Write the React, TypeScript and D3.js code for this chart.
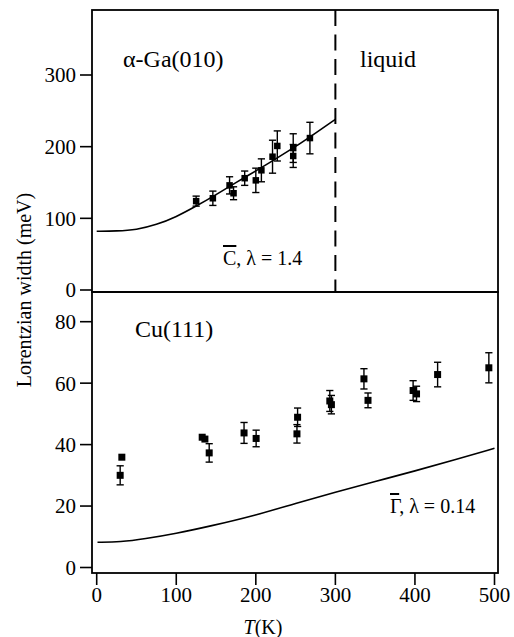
import React from "react";
import * as d3 from "d3";

// ---- data ----
const xTicks = [0, 100, 200, 300, 400, 500];
const gaTicks = [0, 100, 200, 300];
const cuTicks = [0, 20, 40, 60, 80];

// alpha-Ga(010) measured widths
const gaT = [125, 146, 167, 172, 186, 200, 207, 221, 227, 247, 247, 268];
const gaW = [124, 128, 146, 135, 156, 153, 167, 186, 201, 198, 187, 212];
const gaErr = [7, 10, 12, 9, 10, 17, 16, 23, 21, 20, 16, 22];

// alpha-Ga model curve (C-bar, lambda = 1.4)
const gaCurveT = [0, 25, 50, 75, 100, 125, 150, 175, 200, 225, 250, 275, 300];
const gaCurveW = [82, 82.3, 84, 91, 102, 117, 133, 150, 166, 183, 200, 219, 238];

// Cu(111) measured widths
const cuT = [31.6, 29.5, 132.6, 136, 141.4, 185.2, 200.4, 252.5, 251.7, 293, 295, 335.9, 341, 397.7, 402, 428.5, 492.9];
const cuW = [35.9, 30.0, 42.4, 41.8, 37.3, 43.8, 42.0, 48.9, 43.5, 54.2, 53.0, 61.4, 54.4, 57.6, 56.5, 62.8, 65.0];
const cuErr = [0, 3.1, 0, 0, 3.0, 3.4, 2.7, 3.0, 3.0, 3.4, 3.0, 3.3, 2.4, 3.2, 2.5, 4.0, 4.9];

// Cu model curve (Gamma-bar, lambda = 0.14)
const cuCurveT = [1, 30, 60, 100, 140, 200, 250, 300, 350, 400, 450, 500];
const cuCurveW = [8.2, 8.3, 9.3, 11.1, 13.3, 17.0, 20.9, 24.5, 28.0, 31.4, 35.1, 38.8];

const FONT = '"Liberation Serif", "Times New Roman", Times, serif';

export default function App() {
  const W = 514;
  const H = 637;
  const left = 92;
  const right = 498;
  const top = 10;
  const mid = 292;
  const bottom = 573;

  const x = d3.scaleLinear().domain([0, 500]).range([96.7, 494.5]);
  const yGa = d3.scaleLinear().domain([0, 300]).range([290, 75]);
  const yCu = d3.scaleLinear().domain([0, 80]).range([567.5, 321.7]);

  const gaLine = d3
    .line<number>()
    .x((_, i) => x(gaCurveT[i]))
    .y((d) => yGa(d))
    .curve(d3.curveBasis);
  const cuLine = d3
    .line<number>()
    .x((_, i) => x(cuCurveT[i]))
    .y((d) => yCu(d))
    .curve(d3.curveBasis);

  const frameW = 1.8;
  const tickLen = 12;

  const point = (
    t: number,
    w: number,
    e: number,
    y: d3.ScaleLinear<number, number>,
    size: number,
    key: string
  ) => {
    const cx = x(t);
    const cy = y(w);
    const cap = 3.6;
    return (
      <g key={key}>
        {e > 0 && (
          <g stroke="#000" strokeWidth={1.4}>
            <line x1={cx} x2={cx} y1={y(w - e)} y2={y(w + e)} />
            <line x1={cx - cap} x2={cx + cap} y1={y(w - e)} y2={y(w - e)} />
            <line x1={cx - cap} x2={cx + cap} y1={y(w + e)} y2={y(w + e)} />
          </g>
        )}
        <rect x={cx - size / 2} y={cy - size / 2} width={size} height={size} fill="#000" />
      </g>
    );
  };

  const ts: React.CSSProperties = { fontFamily: FONT };

  return (
    <svg
      width={W}
      height={H}
      style={{ position: "absolute", left: 0, top: 0, background: "#fff", fontFamily: FONT }}
    >
      <rect x={0} y={0} width={W} height={H} fill="#fff" />

      {/* frames */}
      <g stroke="#000" strokeWidth={frameW} fill="none">
        <rect x={left} y={top} width={right - left} height={mid - top} />
        <rect x={left} y={mid} width={right - left} height={bottom - mid} />
      </g>

      {/* melting line */}
      <line
        x1={x(300)}
        x2={x(300)}
        y1={top}
        y2={mid}
        stroke="#000"
        strokeWidth={2}
        strokeDasharray="16 8.5"
      />

      {/* top y axis */}
      <g>
        {gaTicks.map((t) => (
          <g key={"gt" + t}>
            <line x1={left - tickLen} x2={left} y1={yGa(t)} y2={yGa(t)} stroke="#000" strokeWidth={1.6} />
            <text x={left - 16} y={yGa(t)} dy="0.35em" textAnchor="end" fontSize={21} style={ts}>
              {t}
            </text>
          </g>
        ))}
      </g>

      {/* bottom y axis */}
      <g>
        {cuTicks.map((t) => (
          <g key={"ct" + t}>
            <line x1={left - tickLen} x2={left} y1={yCu(t)} y2={yCu(t)} stroke="#000" strokeWidth={1.6} />
            <text x={left - 16} y={yCu(t)} dy="0.35em" textAnchor="end" fontSize={21} style={ts}>
              {t}
            </text>
          </g>
        ))}
      </g>

      {/* x axis */}
      <g>
        {xTicks.map((t) => (
          <g key={"xt" + t}>
            <line x1={x(t)} x2={x(t)} y1={bottom} y2={bottom + tickLen} stroke="#000" strokeWidth={1.6} />
            <text x={x(t)} y={602} textAnchor="middle" fontSize={21} style={ts}>
              {t}
            </text>
          </g>
        ))}
      </g>

      {/* curves */}
      <path d={gaLine(gaCurveW) || ""} fill="none" stroke="#000" strokeWidth={1.6} />
      <path d={cuLine(cuCurveW) || ""} fill="none" stroke="#000" strokeWidth={1.6} />

      {/* points */}
      {gaT.map((t, i) => point(t, gaW[i], gaErr[i], yGa, 6.5, "g" + i))}
      {cuT.map((t, i) => point(t, cuW[i], cuErr[i], yCu, 7, "c" + i))}

      {/* labels */}
      <text x={123} y={67} fontSize={24} style={ts}>
        α-Ga(010)
      </text>
      <text x={360} y={67} fontSize={24} style={ts}>
        liquid
      </text>
      <text x={135} y={337} fontSize={24} style={ts}>
        Cu(111)
      </text>
      <text x={223} y={265} fontSize={20} style={ts}>
        <tspan style={{ textDecoration: "overline" }}>C</tspan>, λ = 1.4
      </text>
      <text x={390} y={513} fontSize={20} style={ts}>
        <tspan style={{ textDecoration: "overline" }}>Γ</tspan>, λ = 0.14
      </text>

      {/* axis titles */}
      <text transform="translate(31,290) rotate(-90)" textAnchor="middle" fontSize={20} style={ts}>
        Lorentzian width (meV)
      </text>
      <text x={263} y={634} textAnchor="middle" fontSize={20} style={ts}>
        <tspan fontStyle="italic">T</tspan>(K)
      </text>
    </svg>
  );
}
